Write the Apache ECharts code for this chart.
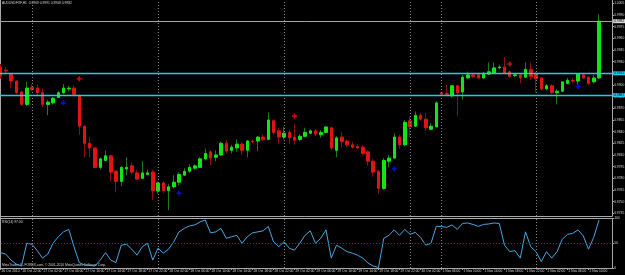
<!DOCTYPE html>
<html><head><meta charset="utf-8">
<script src="https://cdn.jsdelivr.net/npm/echarts@6/dist/echarts.min.js"></script>
<style>html,body{margin:0;padding:0;background:#000;}#c{width:625px;height:275px;}</style>
</head><body><div id="c"></div>
<script>
const symbolName = 'AUDUSDFXF,H1';
const opens = [0.9923,0.9919,0.9914,0.9905,0.9891,0.9875,0.9897,0.9896,0.9890,0.9875,
0.9877,0.9884,0.9890,0.9895,0.9896,0.9886,0.9847,0.9825,0.9819,0.9794,
0.9803,0.9809,0.9789,0.9776,0.9792,0.9796,0.9787,0.9780,0.9785,0.9788,
0.9764,0.9774,0.9764,0.9769,0.9775,0.9784,0.9789,0.9793,0.9794,0.9805,
0.9814,0.9807,0.9810,0.9825,0.9816,0.9819,0.9824,0.9816,0.9828,0.9828,
0.9833,0.9830,0.9854,0.9841,0.9833,0.9839,0.9833,0.9830,0.9834,0.9838,
0.9841,0.9836,0.9839,0.9845,0.9816,0.9833,0.9828,0.9823,0.9821,0.9820,
0.9814,0.9802,0.9789,0.9767,0.9802,0.9806,0.9833,0.9823,0.9854,0.9847,
0.9861,0.9856,0.9843,0.9846,0.9890,0.9889,0.9886,0.9899,0.9891,0.9909,
0.9913,0.9913,0.9909,0.9914,0.9915,0.9922,0.9923,0.9917,0.9912,0.9913,
0.9910,0.9920,0.9914,0.9909,0.9895,0.9899,0.9890,0.9892,0.9902,0.9906,
0.9905,0.9913,0.9910,0.9904,0.9909];
const closes = [0.9911,0.9918,0.9905,0.9890,0.9875,0.9896,0.9894,0.9890,0.9875,0.9878,
0.9883,0.9890,0.9896,0.9896,0.9888,0.9847,0.9825,0.9819,0.9794,0.9805,
0.9809,0.9788,0.9776,0.9794,0.9794,0.9788,0.9779,0.9787,0.9787,0.9764,
0.9774,0.9764,0.9769,0.9775,0.9785,0.9789,0.9794,0.9796,0.9805,0.9812,
0.9806,0.9810,0.9825,0.9815,0.9820,0.9824,0.9816,0.9828,0.9827,0.9833,
0.9830,0.9855,0.9839,0.9833,0.9838,0.9832,0.9829,0.9834,0.9839,0.9841,
0.9837,0.9839,0.9846,0.9819,0.9832,0.9827,0.9823,0.9820,0.9819,0.9812,
0.9802,0.9788,0.9767,0.9803,0.9806,0.9833,0.9823,0.9852,0.9846,0.9861,
0.9856,0.9845,0.9847,0.9877,0.9888,0.9888,0.9899,0.9890,0.9910,0.9913,
0.9911,0.9909,0.9915,0.9917,0.9922,0.9923,0.9915,0.9911,0.9913,0.9909,
0.9920,0.9911,0.9908,0.9895,0.9899,0.9890,0.9892,0.9904,0.9906,0.9905,
0.9914,0.9909,0.9902,0.9909,0.9982];
const lows = [0.9908,0.9914,0.9896,0.9888,0.9873,0.9873,0.9892,0.9887,0.9872,0.9861,
0.9875,0.9883,0.9888,0.9891,0.9886,0.9836,0.9807,0.9807,0.9793,0.9791,
0.9802,0.9776,0.9762,0.9770,0.9784,0.9785,0.9778,0.9779,0.9784,0.9752,
0.9760,0.9761,0.9739,0.9767,0.9771,0.9783,0.9787,0.9791,0.9793,0.9803,
0.9797,0.9802,0.9809,0.9812,0.9812,0.9814,0.9810,0.9807,0.9825,0.9815,
0.9828,0.9829,0.9836,0.9824,0.9830,0.9824,0.9823,0.9828,0.9833,0.9837,
0.9834,0.9832,0.9838,0.9816,0.9807,0.9820,0.9820,0.9818,0.9818,0.9810,
0.9796,0.9782,0.9760,0.9765,0.9794,0.9805,0.9818,0.9821,0.9833,0.9846,
0.9854,0.9841,0.9842,0.9846,0.9887,0.9887,0.9884,0.9860,0.9881,0.9908,
0.9909,0.9908,0.9908,0.9913,0.9914,0.9920,0.9914,0.9909,0.9910,0.9902,
0.9909,0.9906,0.9890,0.9893,0.9893,0.9888,0.9875,0.9891,0.9901,0.9902,
0.9901,0.9908,0.9900,0.9902,0.9908];
const highs = [0.9927,0.9923,0.9915,0.9906,0.9893,0.9904,0.9901,0.9901,0.9896,0.9881,
0.9884,0.9892,0.9901,0.9899,0.9899,0.9888,0.9848,0.9833,0.9820,0.9807,
0.9816,0.9810,0.9791,0.9796,0.9807,0.9800,0.9791,0.9802,0.9791,0.9791,
0.9776,0.9776,0.9773,0.9784,0.9788,0.9793,0.9798,0.9798,0.9807,0.9818,
0.9816,0.9816,0.9827,0.9829,0.9823,0.9830,0.9827,0.9829,0.9830,0.9834,
0.9836,0.9865,0.9856,0.9845,0.9846,0.9842,0.9850,0.9837,0.9845,0.9843,
0.9843,0.9842,0.9847,0.9846,0.9834,0.9839,0.9830,0.9827,0.9824,0.9823,
0.9816,0.9805,0.9791,0.9806,0.9810,0.9838,0.9836,0.9855,0.9859,0.9866,
0.9864,0.9864,0.9851,0.9879,0.9891,0.9900,0.9900,0.9900,0.9913,0.9917,
0.9915,0.9914,0.9917,0.9929,0.9929,0.9926,0.9936,0.9919,0.9915,0.9915,
0.9929,0.9929,0.9917,0.9910,0.9901,0.9901,0.9895,0.9905,0.9909,0.9909,
0.9915,0.9915,0.9911,0.9913,0.9991];
const rsiValues = [31,28,16,8,4,50,48,35,20,28,
50,63,73,78,43,11,6,5,4,16,
31,16,11,46,48,38,26,43,50,16,
40,30,38,53,73,80,85,87,93,97,
71,73,80,60,63,66,50,63,71,73,
75,84,53,43,53,40,36,50,66,75,
50,60,77,20,46,40,33,30,26,20,
10,4,1,60,66,77,66,78,68,72,
62,46,50,84,84,82,87,78,90,91,
88,84,88,89,91,90,46,33,35,20,
73,43,33,13,33,20,33,58,68,70,
77,65,38,62,97];
const priceTicks = [0.9735,0.9750,0.9765,0.9780,0.9795,0.9810,0.9825,0.9840,0.9855,0.9870,
0.9885,0.9900,0.9915,0.9930,0.9945,0.9960,0.9975,0.9990,1.0005];
const rsiTicks = [0, 50, 100];
const levelLines = [0.9915, 0.9887];
const bidPrice = 0.9982;
const daySeparators = [6, 30, 54, 78, 84, 102];
const upMarks = [[15, 0.9908], [56, 0.9860], [97, 0.9927]];
const downMarks = [[12, 0.9877], [34, 0.9761], [75, 0.9792], [110, 0.9898]];

// bar times (hourly, weekend gap between 30 Oct 05:00 and 1 Nov 06:00)
const monthNames = ['Jan','Feb','Mar','Apr','May','Jun','Jul','Aug','Sep','Oct','Nov','Dec'];
const nBars = opens.length;
const categories = [];
for (let i = 0; i < nBars; i++) {
  const t = i < 84 ? Date.UTC(2010, 9, 26, 18) + i * 3600000 : Date.UTC(2010, 10, 1, 6) + (i - 84) * 3600000;
  const d = new Date(t);
  categories.push(d.getUTCDate() + ' ' + monthNames[d.getUTCMonth()] + ' ' + String(d.getUTCHours()).padStart(2, '0') + ':00');
}
categories.push('shift1', 'shift2');

const wickData = opens.map((o, i) => [o, closes[i], lows[i], highs[i]]);
const bodyData = opens.map((o, i) => [o, closes[i], Math.min(o, closes[i]), Math.max(o, closes[i])]);

const FONT = 'Liberation Sans';
const axisGray = '#a8a8a8';
const textGray = '#d6d6d6';
const CYAN = '#1ccfe6';
const plus = 'path://M2,0H4V2H6V4H4V6H2V4H0V2H2Z';
const last = nBars - 1;
const boxLabel = (bg) => ({ show: true, position: 'end', distance: 1, formatter: p => Number(p.value).toFixed(4),
  color: '#000', backgroundColor: bg, fontSize: 3.3, fontFamily: FONT, padding: [0.5, 1] });
const lineMarker = (name, xi, yi, data, lineStyle, label, z) => ({
  type: 'scatter', name, xAxisIndex: xi, yAxisIndex: yi, data: [], z, color: lineStyle.color,
  markLine: { silent: true, symbol: 'none', animation: false, precision: 4,
    lineStyle: Object.assign({ opacity: 1 }, lineStyle), emphasis: { disabled: true }, label, data } });

const chart = echarts.init(document.getElementById('c'), null, { renderer: 'canvas', width: 625, height: 275 });
chart.setOption({
  backgroundColor: '#000000',
  animation: false,
  grid: [
    { left: -2.125, right: 12.875, top: 0, height: 216, outerBoundsMode: 'none', containLabel: false },
    { left: -2.125, right: 12.875, top: 218.5, height: 49.5, outerBoundsMode: 'none', containLabel: false }
  ],
  xAxis: [
    { type: 'category', gridIndex: 0, data: categories, boundaryGap: true,
      axisLine: { show: true, lineStyle: { color: axisGray, width: 1 } },
      axisTick: { show: false }, axisLabel: { show: false }, splitLine: { show: false } },
    { type: 'category', gridIndex: 1, data: categories, boundaryGap: true,
      axisLine: { show: true, lineStyle: { color: axisGray, width: 1 } },
      axisTick: { show: true, alignWithLabel: true, length: 2, interval: (idx) => idx % 4 === 0 && idx < nBars, lineStyle: { color: axisGray } },
      axisLabel: { show: true, interval: (idx) => idx % 4 === 0 && idx < nBars,
        formatter: (v, idx) => idx === 0 ? '26 Oct 2010' : v,
        align: 'left', color: textGray, fontSize: 3.3, fontFamily: FONT, margin: 1.5, padding: [0, 0, 0, 1] },
      splitLine: { show: false } }
  ],
  yAxis: [
    { type: 'value', gridIndex: 0, position: 'right', min: 0.973153, max: 1.000924, scale: true,
      axisLine: { show: true, lineStyle: { color: axisGray } },
      axisTick: { show: true, length: 2, customValues: priceTicks, lineStyle: { color: axisGray } },
      axisLabel: { show: true, customValues: priceTicks, formatter: v => v.toFixed(4), color: textGray, fontSize: 3.3, fontFamily: FONT, margin: 2 },
      splitLine: { show: false } },
    { type: 'value', gridIndex: 1, position: 'right', min: 0, max: 100,
      axisLine: { show: true, lineStyle: { color: axisGray } },
      axisTick: { show: true, length: 2, customValues: rsiTicks, lineStyle: { color: axisGray } },
      axisLabel: { show: true, customValues: rsiTicks, color: textGray, fontSize: 3.3, fontFamily: FONT, margin: 2 },
      splitLine: { show: false } }
  ],
  series: [
    lineMarker('daySepMain', 0, 0, daySeparators.map(i => ({ xAxis: categories[i] })),
      { color: '#8c8c8c', type: [1, 2], width: 1 }, { show: false }, 1),
    lineMarker('bid', 0, 0, [{ yAxis: bidPrice }],
      { color: '#a4a4a4', type: 'solid', width: 1 }, boxLabel('#d8d8d8'), 1),
    lineMarker('levels', 0, 0, levelLines.map(v => ({ yAxis: v })),
      { color: CYAN, type: 'solid', width: 1.3 }, boxLabel(CYAN), 1),
    { type: 'candlestick', name: 'wick', xAxisIndex: 0, yAxisIndex: 0, data: wickData, barWidth: 1, z: 2,
      itemStyle: { color: '#1c7a1c', color0: '#8a1010', borderColor: '#1c7a1c', borderColor0: '#8a1010', borderWidth: 1 } },
    { type: 'candlestick', name: 'body', xAxisIndex: 0, yAxisIndex: 0, data: bodyData, barWidth: 3, z: 3,
      itemStyle: { color: '#12e612', color0: '#e01414', borderColor: '#12e612', borderColor0: '#e01414', borderWidth: 1 } },
    { type: 'scatter', name: 'up', xAxisIndex: 0, yAxisIndex: 0, data: upMarks, symbol: plus, symbolSize: 5, z: 4,
      itemStyle: { color: '#ff1010' } },
    { type: 'scatter', name: 'down', xAxisIndex: 0, yAxisIndex: 0, data: downMarks, symbol: plus, symbolSize: 5, z: 4,
      itemStyle: { color: '#1010ff' } },
    lineMarker('daySepRsi', 1, 1, daySeparators.map(i => ({ xAxis: categories[i] })),
      { color: '#8c8c8c', type: [1, 2], width: 1 }, { show: false }, 1),
    lineMarker('mid', 1, 1, [{ yAxis: 50 }],
      { color: '#8a2a6a', type: [1, 2], width: 1 }, { show: false }, 1),
    { type: 'line', name: 'RSI', xAxisIndex: 1, yAxisIndex: 1, data: rsiValues, symbol: 'none', z: 3,
      lineStyle: { color: '#4aa6e0', width: 1 } }
  ],
  graphic: [
    { type: 'line', shape: { x1: 0.5, y1: 0, x2: 0.5, y2: 268 }, style: { stroke: axisGray, lineWidth: 1 }, silent: true },
    { type: 'line', shape: { x1: 0, y1: 218.5, x2: 612, y2: 218.5 }, style: { stroke: axisGray, lineWidth: 1 }, silent: true },
    { type: 'text', left: 2, top: 2, silent: true,
      style: { text: symbolName + '  ' + opens[last].toFixed(4) + ' ' + highs[last].toFixed(4) + ' ' + lows[last].toFixed(4) + ' ' + closes[last].toFixed(4), fill: textGray, fontSize: 3.3, fontFamily: FONT } },
    { type: 'text', left: 2, top: 220.5, silent: true,
      style: { text: 'RSI(14) ' + rsiValues[last].toFixed(2), fill: textGray, fontSize: 3.3, fontFamily: FONT } },
    { type: 'text', left: 2, top: 263.5, silent: true,
      style: { text: 'MetaTrader 4 - FOREX.com, \u00a9 2001-2010 MetaQuotes Software Corp.', fill: textGray, fontSize: 3.3, fontFamily: FONT } }
  ]
});
</script></body></html>
